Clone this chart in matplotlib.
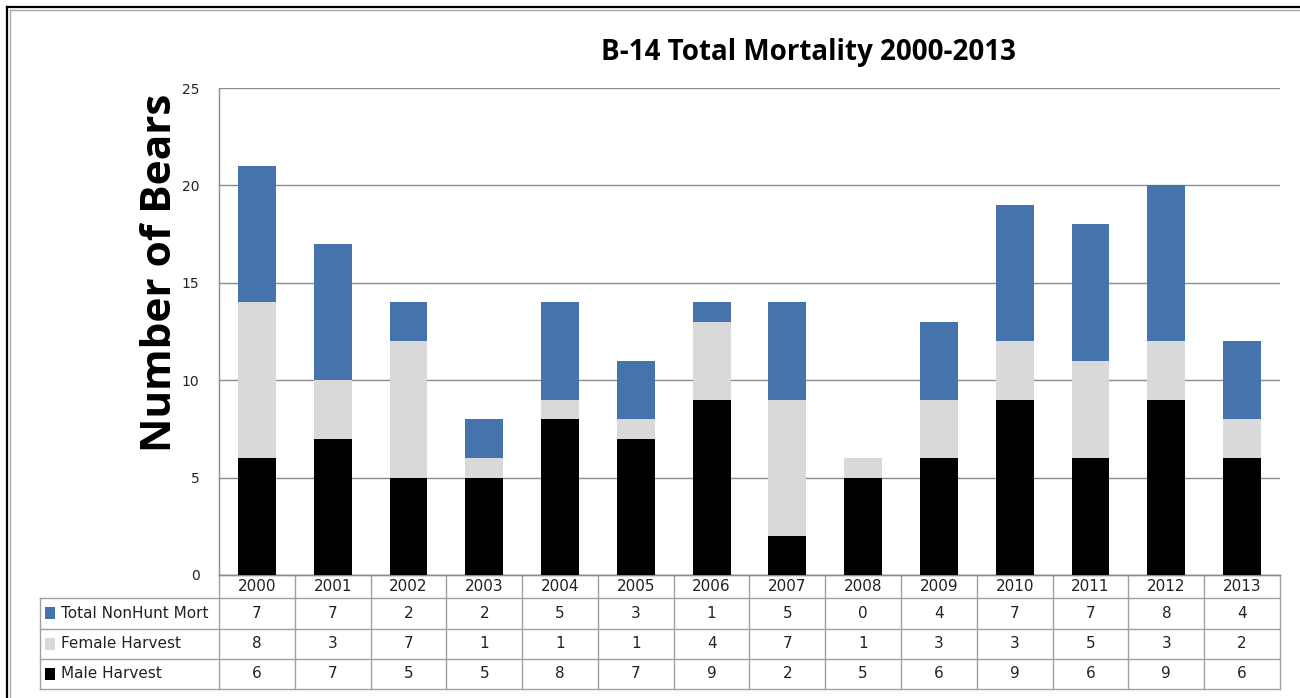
import matplotlib
matplotlib.use("Agg")
import matplotlib.pyplot as plt
from matplotlib.transforms import blended_transform_factory
from matplotlib.patches import Rectangle
from matplotlib.lines import Line2D

plt.rcParams["font.family"] = ["DejaVu Sans"]

years = ["2000", "2001", "2002", "2003", "2004", "2005", "2006", "2007",
         "2008", "2009", "2010", "2011", "2012", "2013"]
nonhunt = [7, 7, 2, 2, 5, 3, 1, 5, 0, 4, 7, 7, 8, 4]
female = [8, 3, 7, 1, 1, 1, 4, 7, 1, 3, 3, 5, 3, 2]
male = [6, 7, 5, 5, 8, 7, 9, 2, 5, 6, 9, 6, 9, 6]
series_names = ["Total NonHunt Mort", "Female Harvest", "Male Harvest"]
colors = ["#4673AB", "#D9D9D9", "#000000"]

fig = plt.figure(figsize=(13, 6.98), dpi=100)
ax = fig.add_axes([219/1300, 1-575/698, 1061/1300, 487/698])

x = list(range(len(years)))
w = 0.5
ax.bar(x, male, w, color=colors[2], zorder=3)
ax.bar(x, female, w, bottom=male, color=colors[1], zorder=3)
bot2 = [m + f for m, f in zip(male, female)]
ax.bar(x, nonhunt, w, bottom=bot2, color=colors[0], zorder=3)

ax.set_xlim(-0.5, len(years) - 0.5)
ax.set_ylim(0, 25)
ax.set_yticks([0, 5, 10, 15, 20, 25])
ax.set_xticks([])
ax.yaxis.grid(True, color="#8C8C8C", linewidth=1.0, zorder=0)
ax.tick_params(axis="y", length=0, pad=14, labelsize=10, labelcolor="#222222")
for name, s in ax.spines.items():
    s.set_color("#8C8C8C")
    s.set_linewidth(1.0)
ax.spines["right"].set_visible(False)
ax.spines["top"].set_visible(False)

ax.set_title("B-14 Total Mortality 2000-2013", fontsize=20, fontweight="bold",
             family="Open Sans", x=0.556, y=1.0, pad=20)
ax.set_ylabel("Number of Bears", fontsize=30.5, family="Open Sans", fontweight="bold")
ax.yaxis.set_label_coords(-0.036, 0.62)

# Data table
trans = blended_transform_factory(ax.transData, ax.transAxes)
lc = "#A0A0A0"
ys = [0, -23/487, -53.5/487, -84/487, -114/487]
left_x = -0.5 - (219 - 40) / (1061 / 14)
fs = 11
# horizontal lines
for i, yv in enumerate(ys):
    x0 = -0.5 if i == 0 else left_x
    ax.add_line(Line2D([x0, len(years) - 0.5], [yv, yv], transform=trans,
                       color=lc, lw=1.0, clip_on=False))
# vertical lines
for k in range(len(years) + 1):
    ax.add_line(Line2D([k - 0.5, k - 0.5], [ys[0], ys[-1]], transform=trans,
                       color=lc, lw=1.0, clip_on=False))
ax.add_line(Line2D([left_x, left_x], [ys[1], ys[-1]], transform=trans,
                   color=lc, lw=1.0, clip_on=False))
# header
for k, yr in enumerate(years):
    ax.text(k, (ys[0] + ys[1]) / 2, yr, transform=trans, ha="center", va="center",
            fontsize=fs, color="#222222")
rows = [nonhunt, female, male]
for r, (name, vals, c) in enumerate(zip(series_names, rows, colors)):
    yc = (ys[r + 1] + ys[r + 2]) / 2
    for k, v in enumerate(vals):
        ax.text(k, yc, str(v), transform=trans, ha="center", va="center",
                fontsize=fs, color="#222222")
    ax.add_patch(Rectangle((left_x + 0.07, yc - 0.012), 0.13, 0.024,
                           transform=trans, facecolor=c, edgecolor="none",
                           clip_on=False))
    ax.text(left_x + 0.28, yc, name, transform=trans, ha="left", va="center",
            fontsize=fs, color="#222222")

# frame
fig.add_artist(Line2D([7/1300, 1], [1-7/698, 1-7/698], color="black", lw=1.6))
fig.add_artist(Line2D([7/1300, 7/1300], [0, 1-7/698], color="black", lw=1.6))
fig.add_artist(Line2D([10/1300, 1], [1-10/698, 1-10/698], color="#A8A8A8", lw=1.0))
fig.add_artist(Line2D([10/1300, 10/1300], [0, 1-10/698], color="#A8A8A8", lw=1.0))

fig.savefig("out.png", dpi=100)
